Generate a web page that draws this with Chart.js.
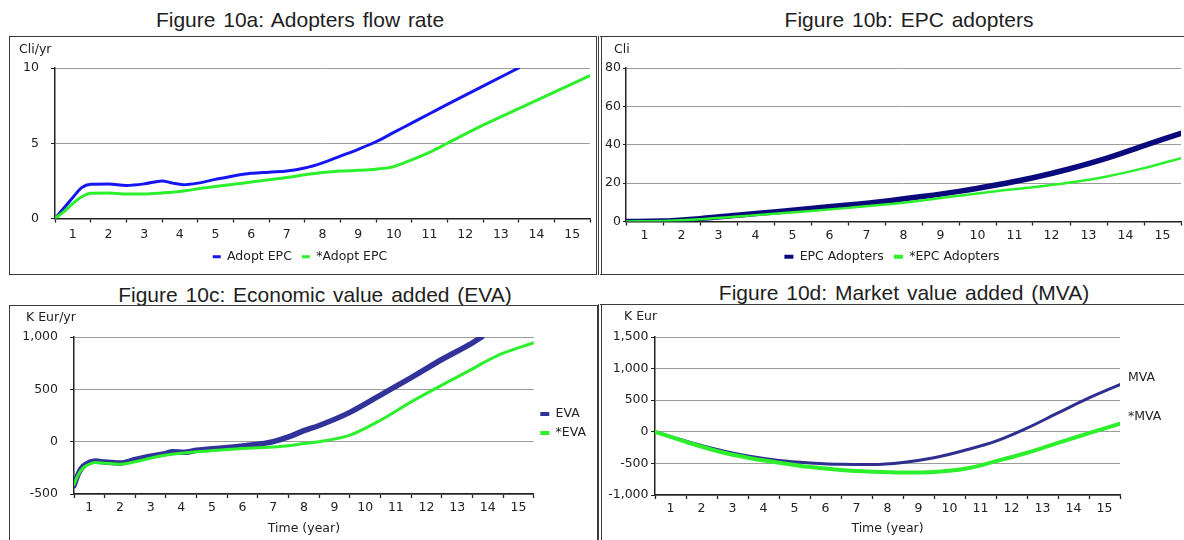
<!DOCTYPE html>
<html>
<head>
<meta charset="utf-8">
<title>Figure 10</title>
<script src="https://cdn.jsdelivr.net/npm/chart.js@4.4.1/dist/chart.umd.min.js"></script>
<style>
  html, body { margin: 0; padding: 0; background: #fff; }
  #page { position: relative; width: 1184px; height: 540px; overflow: hidden; }
  .title {
    position: absolute; width: 560px; text-align: center; white-space: nowrap;
    font-family: "Liberation Sans", Arial, sans-serif; font-size: 21px; line-height: 24px;
    color: #1e1e1e; word-spacing: 2px;
  }
  .frame { position: absolute; box-sizing: border-box; border: 1px solid #3a3a3a; }
  .frame.double { border-left: 4px double #3a3a3a; }
  canvas { position: absolute; }
</style>
</head>
<body>
<div id="page">
  <div class="title" style="left:20px; top:8px;">Figure 10a: Adopters flow rate</div>
  <div class="title" style="left:629px; top:8px;">Figure 10b: EPC adopters</div>
  <div class="title" style="left:35px; top:283px;">Figure 10c: Economic value added (EVA)</div>
  <div class="title" style="left:624px; top:281px;">Figure 10d: Market value added (MVA)</div>

  <div class="frame" style="left:9px; top:36px; width:588px; height:239px;"></div>
  <div class="frame double" style="left:598px; top:36px; width:600px; height:239px;"></div>
  <div class="frame" style="left:9px; top:305px; width:589px; height:250px;"></div>
  <div class="frame double" style="left:598px; top:304px; width:600px; height:250px;"></div>

  <canvas id="chartA" width="586" height="236" style="left:10px; top:37px;"></canvas>
  <canvas id="chartB" width="581" height="236" style="left:603px; top:37px;"></canvas>
  <canvas id="chartC" width="587" height="234" style="left:10px; top:306px;"></canvas>
  <canvas id="chartD" width="580" height="235" style="left:604px; top:305px;"></canvas>
</div>

<script>
// x axis: years 0..15, labels sit in the middle of each year
const yearLabels = ['1', '2', '3', '4', '5', '6', '7', '8', '9', '10', '11', '12', '13', '14', '15'];

// Figure 10a: Adopters flow rate (Cli/yr)
const adoptYears = [0, 0.25, 0.5, 0.75, 1, 1.5, 2, 2.5, 3, 3.3, 3.6, 4, 4.5, 5, 5.5, 6, 6.5, 7, 7.5, 8, 8.5, 9, 9.5, 10, 10.5, 11, 12, 13, 13.5, 14, 15];
const adoptEpc = [0, 0.7, 1.4, 2.05, 2.27, 2.3, 2.2, 2.3, 2.5, 2.35, 2.25, 2.35, 2.6, 2.83, 3.0, 3.08, 3.15, 3.35, 3.7, 4.15, 4.6, 5.1, 5.72, 6.34, 6.96, 7.58, 8.8, 10.0, null, null, null];
const adoptEpcStar = [0, 0.45, 1.0, 1.45, 1.68, 1.7, 1.62, 1.63, 1.7, 1.75, 1.82, 1.97, 2.12, 2.27, 2.42, 2.57, 2.72, 2.9, 3.05, 3.15, 3.2, 3.28, 3.45, 3.9, 4.4, 5.0, 6.2, 7.3, 7.85, 8.4, 9.5];
const adoptTicks = [0, 5, 10];

// Figure 10b: EPC adopters (Cli)
const epcYears = [0, 1, 2, 3, 4, 5, 6, 7, 8, 9, 10, 11, 12, 13, 14, 15];
const epcAdopters = [0, 0.2, 1.5, 3.2, 5.0, 6.8, 8.6, 10.6, 13.0, 15.7, 19.0, 22.8, 27.5, 33.0, 39.5, 46];
const epcAdoptersStar = [0, 0.3, 1.2, 2.6, 4.0, 5.5, 7.1, 8.8, 11.0, 13.4, 15.8, 17.8, 20.3, 23.5, 27.8, 33];
const epcTicks = [0, 20, 40, 60, 80];

// Figure 10c: Economic value added (K Eur/yr)
const evaYears = [0, 0.15, 0.3, 0.5, 0.7, 1, 1.5, 2, 2.5, 3, 3.2, 3.6, 4, 5, 6, 6.5, 7, 7.5, 8, 9, 10, 11, 12, 13, 13.3, 14, 15];
const eva = [-420, -300, -235, -198, -185, -195, -205, -170, -138, -112, -97, -102, -82, -55, -25, 0, 45, 105, 155, 280, 445, 612, 785, 945, 1000, null, null];
const evaStar = [-410, -310, -250, -215, -200, -205, -215, -192, -158, -128, -120, -108, -97, -74, -58, -50, -38, -18, 0, 62, 205, 380, 540, 695, 745, 845, 945];
const evaTicks = [-500, 0, 500, 1000];

// Figure 10d: Market value added (K Eur)
const mvaYears = [0, 1, 2, 3, 4, 5, 6, 7, 8, 9, 10, 11, 12, 13, 14, 15];
const mva = [0, -147, -279, -384, -453, -492, -515, -518, -485, -412, -292, -148, 58, 298, 535, 748];
const mvaStar = [0, -160, -303, -410, -489, -558, -605, -632, -645, -635, -585, -465, -332, -174, -22, 128];
const mvaTicks = [-1000, -500, 0, 500, 1000, 1500];

const INK = '#222';
const GRID = '#9c9c9c';

Chart.defaults.font.family = '"DejaVu Sans", Verdana, sans-serif';
Chart.defaults.font.size = 12.5;
Chart.defaults.color = INK;

const baseLabels = Chart.defaults.plugins.legend.labels.generateLabels;

// small unit text above the y axis
const unitText = {
    id: 'unitText',
    afterDraw(chart, args, opts) {
        const ctx = chart.ctx;
        ctx.save();
        ctx.font = '12.5px "DejaVu Sans", Verdana, sans-serif';
        ctx.fillStyle = INK;
        ctx.textBaseline = 'middle';
        ctx.fillText(opts.text, opts.x, opts.y);
        ctx.restore();
    }
};

// series name written next to the last point (figure 10d)
const endLabels = {
    id: 'endLabels',
    afterDatasetsDraw(chart, args, opts) {
        if (!opts.display) return;
        const ctx = chart.ctx;
        ctx.save();
        ctx.font = '12.5px "DejaVu Sans", Verdana, sans-serif';
        ctx.fillStyle = INK;
        ctx.textBaseline = 'middle';
        chart.data.datasets.forEach((ds, i) => {
            const pts = chart.getDatasetMeta(i).data;
            const last = pts[pts.length - 1];
            ctx.fillText(ds.label, chart.chartArea.right + opts.dx, last.y + opts.dy);
        });
        ctx.restore();
    }
};

function points(xs, ys) {
    return xs.map((x, i) => ({ x: x, y: ys[i] }));
}

function lineSet(label, xs, ys, color, width, order) {
    return {
        label: label,
        data: points(xs, ys),
        borderColor: color,
        backgroundColor: color,
        borderWidth: width,
        pointRadius: 0,
        pointHoverRadius: 0,
        cubicInterpolationMode: 'monotone',
        borderCapStyle: 'round',
        borderJoinStyle: 'round',
        order: order
    };
}

function isWhole(v) {
    return Math.abs(v - Math.round(v)) < 1e-6;
}

function timeAxis(height, pad, title) {
    return {
        type: 'linear',
        min: 0,
        max: 15,
        afterFit: s => { s.height = height; },
        border: { color: INK, width: 1.5 },
        grid: {
            drawOnChartArea: false,
            tickLength: 4,
            tickWidth: 1.3,
            tickColor: c => (c.tick && isWhole(c.tick.value)) ? INK : 'rgba(0,0,0,0)'
        },
        ticks: {
            stepSize: 0.5,
            autoSkip: false,
            maxRotation: 0,
            minRotation: 0,
            padding: pad,
            callback: v => isWhole(v) ? '' : yearLabels[Math.round(v + 0.5) - 1]
        },
        title: {
            display: !!title,
            text: title || '',
            padding: { top: 0, bottom: 3.5 },
            font: { size: 12.5 }
        }
    };
}

function valueAxis(vals, width, tickLen, pad) {
    return {
        type: 'linear',
        min: vals[0],
        max: vals[vals.length - 1],
        afterFit: s => { s.width = width; },
        border: { color: INK, width: 1.5 },
        grid: { color: GRID, lineWidth: 1, tickColor: INK, tickLength: tickLen },
        ticks: { stepSize: vals[1] - vals[0], padding: pad }
    };
}

function legendOpts(position, boxW, boxH, pad, show) {
    const opts = {
        display: show,
        position: position,
        labels: {
            boxWidth: boxW,
            boxHeight: boxH,
            padding: pad,
            color: INK,
            font: { size: 12.5 },
            sort: (a, b) => a.datasetIndex - b.datasetIndex,
            generateLabels: chart => baseLabels(chart).map(l => Object.assign(l, { lineWidth: 0 }))
        }
    };
    if (position === 'right') {
        // keep the side legend next to the plot, nudged a little below its middle
        opts.fullSize = false;
        opts.title = { display: true, text: '', padding: { top: 0, bottom: 1 } };
    }
    return opts;
}

function makeChart(id, datasets, cfg) {
    return new Chart(document.getElementById(id), {
        type: 'line',
        data: { datasets: datasets },
        options: {
            responsive: false,
            animation: false,
            events: [],
            layout: { padding: cfg.padding },
            scales: { x: cfg.x, y: cfg.y },
            plugins: {
                legend: cfg.legend,
                tooltip: { enabled: false },
                unitText: cfg.unit,
                endLabels: cfg.ends || { display: false }
            }
        },
        plugins: [unitText, endLabels]
    });
}

makeChart('chartA', [
    lineSet('Adopt EPC', adoptYears, adoptEpc, '#1616f2', 3, 1),
    lineSet('*Adopt EPC', adoptYears, adoptEpcStar, '#2cf02c', 3, 0)
], {
    padding: { top: 31, right: 6, left: 0, bottom: 0 },
    x: timeAxis(22, 5, ''),
    y: valueAxis(adoptTicks, 45, 4, 12),
    legend: legendOpts('bottom', 8, 3, 10, true),
    unit: { text: 'Cli/yr', x: 9, y: 13 }
});

makeChart('chartB', [
    lineSet('EPC Adopters', epcYears, epcAdopters, '#0a0a7c', 5.5, 1),
    lineSet('*EPC Adopters', epcYears, epcAdoptersStar, '#2cf02c', 2.5, 0)
], {
    padding: { top: 31, right: 3, left: 0, bottom: 0 },
    x: timeAxis(19, 3, ''),
    y: valueAxis(epcTicks, 23, 3, 2),
    legend: legendOpts('bottom', 9, 4, 10, true),
    unit: { text: 'Cli', x: 11, y: 13 }
});

makeChart('chartC', [
    lineSet('EVA', evaYears, eva, '#31329a', 5.5, 1),
    lineSet('*EVA', evaYears, evaStar, '#2cf02c', 3, 0)
], {
    padding: { top: 31, right: 1, left: 0, bottom: 0 },
    x: timeAxis(46, 2, 'Time (year)'),
    y: valueAxis(evaTicks, 64, 4, 12),
    legend: legendOpts('right', 9, 4, 6.5, true),
    unit: { text: 'K Eur/yr', x: 16, y: 12 }
});

makeChart('chartD', [
    lineSet('MVA', mvaYears, mva, '#2f2f90', 3, 1),
    lineSet('*MVA', mvaYears, mvaStar, '#2cf02c', 4, 0)
], {
    padding: { top: 32, right: 64, left: 0, bottom: 0 },
    x: timeAxis(45, 2, 'Time (year)'),
    y: valueAxis(mvaTicks, 51, 4, 2.5),
    legend: legendOpts('right', 9, 4, 6.5, false),
    unit: { text: 'K Eur', x: 20, y: 12 },
    ends: { display: true, dx: 8, dy: -7 }
});
</script>
</body>
</html>
